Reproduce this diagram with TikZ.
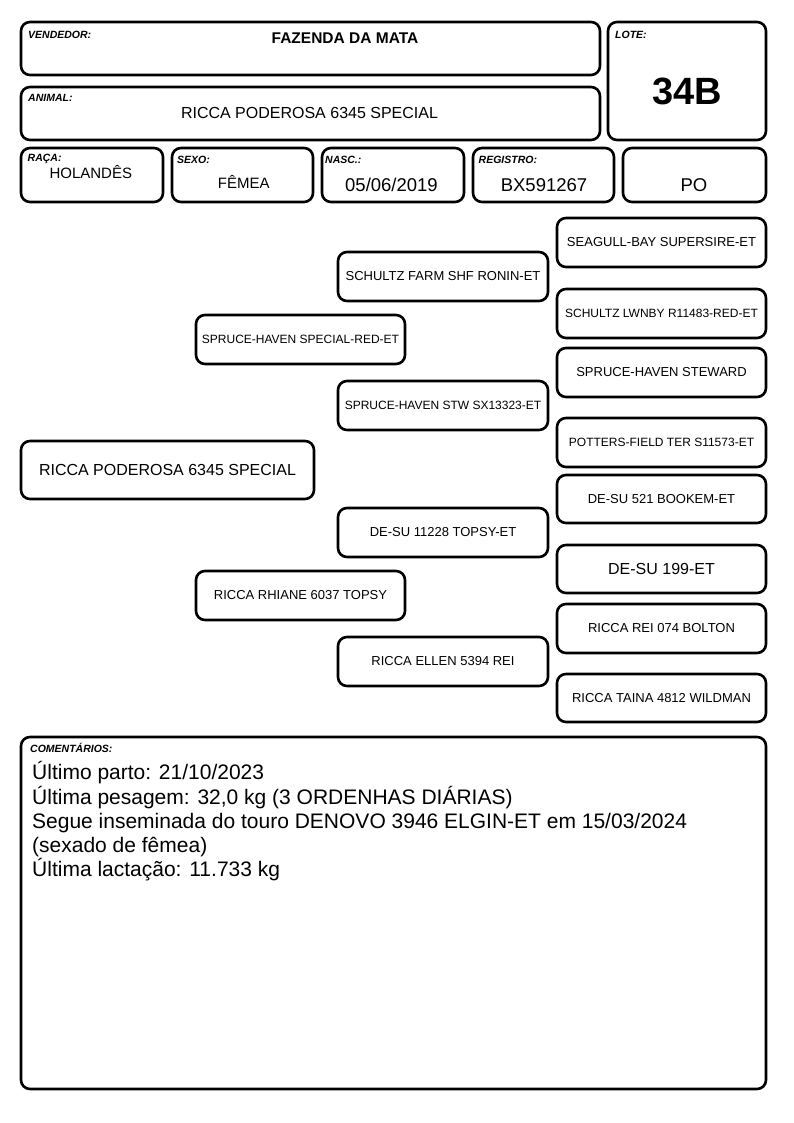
\documentclass[tikz,border=0pt]{standalone}
\usepackage{fontspec}
\setmainfont{Liberation Sans}
\begin{document}
\begin{tikzpicture}[x=1pt,y=-1pt,
  box/.style={draw, line width=2.6pt, rounded corners=9pt, inner sep=0pt},
  lbl/.style={anchor=base west, inner sep=0pt, font=\fontsize{10.5}{12}\selectfont\bfseries\itshape},
  val/.style={anchor=base, inner sep=0pt, font=\fontsize{15}{17}\selectfont},
  ped/.style={box, minimum width=209pt, minimum height=49pt, font=\fontsize{13}{15}\selectfont},
  pedsm/.style={ped, font=\fontsize{12}{14}\selectfont},
  pedlg/.style={ped, font=\fontsize{16}{18}\selectfont},
]
\useasboundingbox (0,0) rectangle (794,1123);
% header boxes
\node[box, minimum width=579pt, minimum height=53pt] (vend) at (310.5,48.5) {};
\node[box, minimum width=158pt, minimum height=118pt] (lote) at (687,81) {};
\node[box, minimum width=579pt, minimum height=53pt] (animal) at (310.5,113.5) {};
\node[box, minimum width=142pt, minimum height=54pt] (raca) at (92,175) {};
\node[box, minimum width=141pt, minimum height=54pt] (sexo) at (242.5,175) {};
\node[box, minimum width=142pt, minimum height=54pt] (nasc) at (393,175) {};
\node[box, minimum width=141pt, minimum height=54pt] (reg) at (543.5,175) {};
\node[box, minimum width=143pt, minimum height=54pt] (po) at (694.5,175) {};
% header labels
\node[lbl] (lvend) at (28,39) {VENDEDOR:};
\node[lbl] (llote) at (615,39) {LOTE:};
\node[lbl] (lanimal) at (28,102) {ANIMAL:};
\node[lbl] (lraca) at (27.5,162) {RAÇA:};
\node[lbl] (lsexo) at (177,164) {SEXO:};
\node[lbl] (lnasc) at (325,164) {NASC.:};
\node[lbl] (lreg) at (478.5,164) {REGISTRO:};
% header values
\node[val, font=\fontsize{15.5}{17}\selectfont\bfseries] (tvend) at (345,43.3) {FAZENDA DA MATA};
\node[val, font=\fontsize{38}{40}\selectfont\bfseries] (tlote) at (687,105) {34B};
\node[val, font=\fontsize{16}{18}\selectfont] (tanimal) at (309.5,119) {RICCA PODEROSA 6345 SPECIAL};
\node[val] (traca) at (90.8,178.3) {HOLANDÊS};
\node[val] (tsexo) at (243.7,189) {FÊMEA};
\node[val, font=\fontsize{18.5}{20}\selectfont] (tnasc) at (391.5,191.7) {05/06/2019};
\node[val, font=\fontsize{18.5}{20}\selectfont] (treg) at (544,191.7) {BX591267};
\node[val, font=\fontsize{18.5}{20}\selectfont] (tpo) at (694,191.7) {PO};
% pedigree
\node[box, minimum width=293pt, minimum height=58pt, font=\fontsize{16}{18}\selectfont] (p0) at (167.5,470) {RICCA PODEROSA 6345 SPECIAL};
\node[pedsm] (s) at (300.5,339.5) {SPRUCE-HAVEN SPECIAL-RED-ET};
\node[ped] (d) at (300.5,595.5) {RICCA RHIANE 6037 TOPSY};
\node[ped, minimum width=210pt] (ss) at (443,276.5) {SCHULTZ FARM SHF RONIN-ET};
\node[pedsm, minimum width=210pt] (sd) at (443,405.5) {SPRUCE-HAVEN STW SX13323-ET};
\node[ped, minimum width=210pt] (ds) at (443,532.5) {DE-SU 11228 TOPSY-ET};
\node[ped, minimum width=210pt] (dd) at (443,661.5) {RICCA ELLEN 5394 REI};
\node[ped] (sss) at (661.5,242.5) {SEAGULL-BAY SUPERSIRE-ET};
\node[pedsm] (ssd) at (661.5,313.5) {SCHULTZ LWNBY R11483-RED-ET};
\node[ped] (sds) at (661.5,372.5) {SPRUCE-HAVEN STEWARD};
\node[pedsm] (sdd) at (661.5,442.5) {POTTERS-FIELD TER S11573-ET};
\node[ped, minimum height=48pt] (dss) at (661.5,499) {DE-SU 521 BOOKEM-ET};
\node[pedlg, minimum height=48pt] (dsd) at (661.5,569) {DE-SU 199-ET};
\node[ped] (dds) at (661.5,628.5) {RICCA REI 074 BOLTON};
\node[ped, minimum height=48pt] (ddd) at (661.5,698) {RICCA TAINA 4812 WILDMAN};
% comments
\node[box, minimum width=745pt, minimum height=352pt] (com) at (393.5,913) {};
\node[lbl] (lcom) at (30,752.7) {COMENTÁRIOS:};
\node[anchor=base west, inner sep=0pt, align=left, font=\fontsize{21}{24.2}\selectfont] (tcom) at (32,876.7) {Último parto: 21/10/2023\\
Última pesagem: 32,0 kg (3 ORDENHAS DIÁRIAS)\\
Segue inseminada do touro DENOVO 3946 ELGIN-ET em 15/03/2024\\
(sexado de fêmea)\\
Última lactação: 11.733 kg};
\end{tikzpicture}
\end{document}
